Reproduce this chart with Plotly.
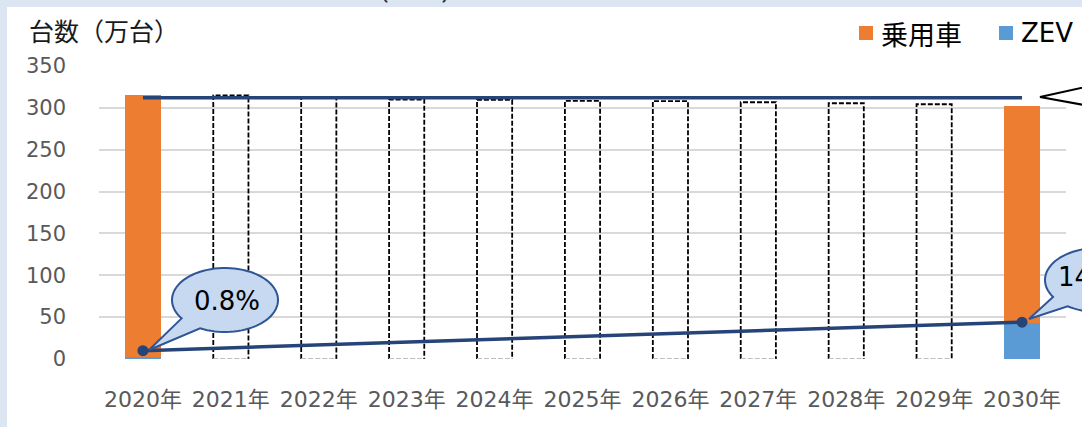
import numpy as np
import plotly.graph_objects as go

# ---------------- data ----------------
years = ["2020年", "2021年", "2022年", "2023年", "2024年", "2025年",
         "2026年", "2027年", "2028年", "2029年", "2030年"]
actual_idx = [0, 10]                     # 2020 and 2030 solid bars
actual_total = [315, 302]                # 乗用車 total (万台)
zev_units = [2.5, 43]                    # ZEV part (万台)
forecast_idx = [1, 2, 3, 4, 5, 6, 7, 8, 9]
forecast_total = [315, 312, 310, 309.5, 308.3, 308, 306.7, 305.5, 304.3]
level_value = 312                        # horizontal reference line
zev_trend = [10, 44]                     # ZEV share trend line
share_labels = ["0.8%", "14%"]

# ---------------- style ----------------
ORANGE = "#ed7d31"
BLUE = "#5b9bd5"
NAVY = "#264478"
BUB_FILL = "#c6d9f1"
BUB_LINE = "#2f5597"
BAND = "#dce6f2"
HALF = 0.2

W, H = 1082, 427
ML, MR, MT, MB = 99, 16, 66, 68
PW, PH = W - ML - MR, H - MT - MB


def px(x):
    return (x - ML) / PW


def py(y):
    return (H - MB - y) / PH


fig = go.Figure()

passenger = [t - z for t, z in zip(actual_total, zev_units)]
fig.add_trace(go.Bar(x=actual_idx, y=zev_units, marker=dict(color=BLUE, line=dict(width=0)),
                     width=2 * HALF, name="ZEV"))
fig.add_trace(go.Bar(x=actual_idx, y=passenger, marker=dict(color=ORANGE, line=dict(width=0)),
                     width=2 * HALF, name="乗用車"))

for i, v in zip(forecast_idx, forecast_total):
    fig.add_trace(go.Scatter(x=[i - HALF, i - HALF, i + HALF, i + HALF], y=[0, v, v, 0],
                             mode="lines", line=dict(color="black", width=1.8, dash="5px,2px"),
                             hoverinfo="skip", showlegend=False))
    fig.add_trace(go.Scatter(x=[i - HALF, i + HALF], y=[0, 0], mode="lines",
                             line=dict(color="#bfbfbf", width=1.8, dash="5px,2px"),
                             hoverinfo="skip", showlegend=False))

fig.add_trace(go.Scatter(x=[actual_idx[0], actual_idx[1]], y=[level_value, level_value],
                         mode="lines", line=dict(color=NAVY, width=3.5), showlegend=False))
fig.add_trace(go.Scatter(x=actual_idx, y=zev_trend, mode="lines+markers",
                         line=dict(color=NAVY, width=3.5),
                         marker=dict(color=NAVY, size=11), showlegend=False))


def bubble_path(cx, cy, rx, ry, a_start, a_end, tip):
    t = np.radians(np.linspace(a_start, a_end + 360, 80))
    xs = cx + rx * np.cos(t)
    ys = cy + ry * np.sin(t)
    pts = [f"{px(a):.5f},{py(b):.5f}" for a, b in zip(xs, ys)]
    p = "M" + " L".join(pts)
    p += f" L{px(tip[0]):.5f},{py(tip[1]):.5f} Z"
    return p


shapes = [
    # white panel on the light-blue band
    dict(type="rect", xref="paper", yref="paper", x0=px(7), x1=px(W + 5), y0=py(7), y1=py(H + 5),
         fillcolor="white", line=dict(width=0), layer="below"),
    dict(type="path", xref="paper", yref="paper",
         path=bubble_path(225, 300, 53, 32, 145, 118, (149, 350)),
         fillcolor=BUB_FILL, line=dict(color=BUB_LINE, width=2)),
    dict(type="path", xref="paper", yref="paper",
         path=bubble_path(1098, 280, 53, 32, 148, 125, (1029, 319)),
         fillcolor=BUB_FILL, line=dict(color=BUB_LINE, width=2)),
    dict(type="path", xref="paper", yref="paper",
         path=f"M{px(1095)},{py(85)} L{px(1040)},{py(97)} L{px(1095)},{py(107)} Z",
         fillcolor="white", line=dict(color="black", width=2)),
    # legend squares
    dict(type="rect", xref="paper", yref="paper", x0=px(859), x1=px(873), y0=py(26), y1=py(40),
         fillcolor=ORANGE, line=dict(width=0)),
    dict(type="rect", xref="paper", yref="paper", x0=px(999), x1=px(1013), y0=py(26), y1=py(40),
         fillcolor=BLUE, line=dict(width=0)),
]

annotations = [
    dict(text="台数（万台）", xref="paper", yref="paper", x=px(27), y=py(30), xanchor="left",
         yanchor="middle", showarrow=False, font=dict(family="Noto Sans CJK JP", size=25, color="#1a1a1a")),
    dict(text="乗用車", xref="paper", yref="paper", x=px(879), y=py(33), xanchor="left",
         yanchor="middle", showarrow=False, font=dict(family="Noto Sans CJK JP", size=27, color="black")),
    dict(text="ZEV", xref="paper", yref="paper", x=px(1019), y=py(33), xanchor="left",
         yanchor="middle", showarrow=False, font=dict(family="DejaVu Sans", size=26, color="black")),
    dict(text=share_labels[0], xref="paper", yref="paper", x=px(227), y=py(301), xanchor="center",
         yanchor="middle", showarrow=False, font=dict(family="DejaVu Sans", size=26, color="black")),
    dict(text=share_labels[1], xref="paper", yref="paper", x=px(1056), y=py(277), xanchor="left",
         yanchor="middle", showarrow=False, font=dict(family="DejaVu Sans", size=26, color="black")),
    dict(text="（　　）", xref="paper", yref="paper", x=px(415), y=py(-12), xanchor="center",
         yanchor="middle", showarrow=False, font=dict(family="Noto Sans CJK JP", size=26, color="#333333")),
]

fig.update_layout(
    width=W, height=H,
    margin=dict(l=ML, r=MR, t=MT, b=MB),
    paper_bgcolor=BAND, plot_bgcolor="rgba(0,0,0,0)",
    barmode="stack", showlegend=False,
    shapes=shapes, annotations=annotations,
    xaxis=dict(range=[-0.5, 10.5], tickvals=list(range(len(years))), ticktext=years,
               showgrid=False, zeroline=False, showline=False, ticks="",
               tickfont=dict(family="DejaVu Sans, Noto Sans CJK JP", size=22, color="#595959"),
               ticklabelstandoff=25, fixedrange=True),
    yaxis=dict(range=[0, 350], tickvals=[0, 50, 100, 150, 200, 250, 300, 350],
               showgrid=True, gridcolor="#d9d9d9", gridwidth=1.5, zeroline=False,
               showline=False, ticks="",
               tickfont=dict(family="DejaVu Sans", size=21, color="#595959"),
               ticklabelstandoff=32, fixedrange=True),
)

fig.write_html("out.html", config={"displayModeBar": False},
               post_script="document.body.style.margin='0';document.body.style.overflow='hidden';")
